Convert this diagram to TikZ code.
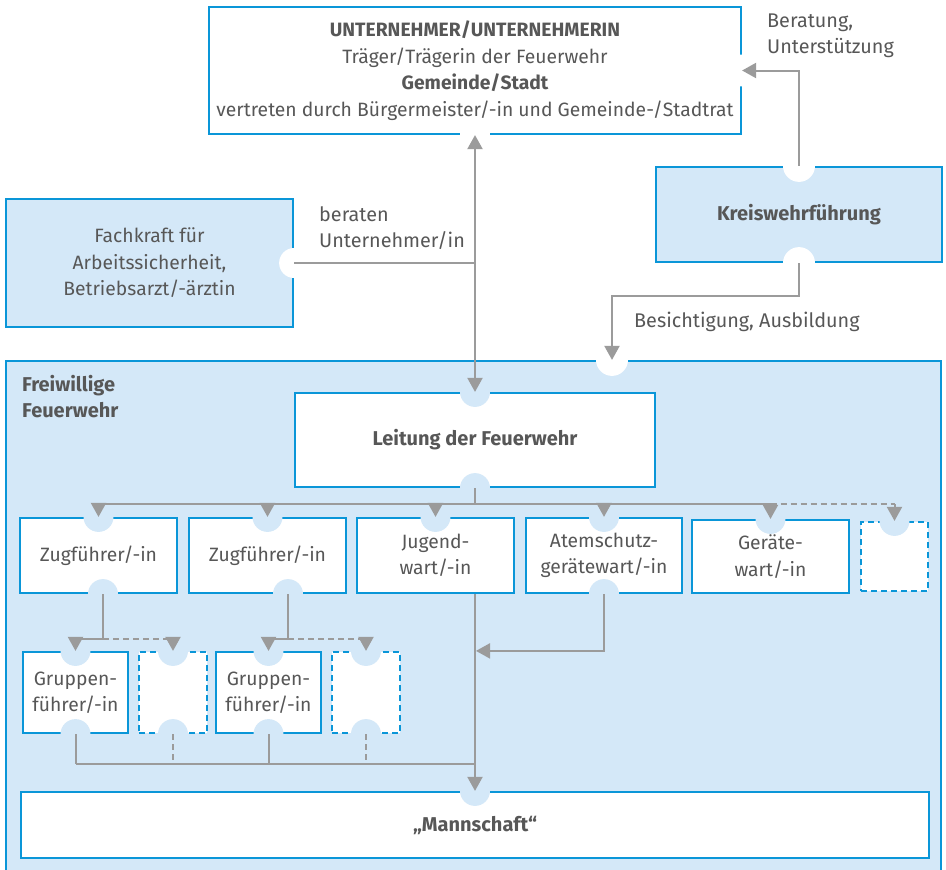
\documentclass[tikz,border=0pt]{standalone}
\usepackage{fontspec}
\setmainfont{Fira Sans}
\usetikzlibrary{arrows.meta}
\definecolor{bl}{HTML}{0A96D8}
\definecolor{lb}{HTML}{D4E8F8}
\definecolor{gr}{HTML}{9B9B9B}
\definecolor{tx}{HTML}{575757}
\newcommand{\boxfont}{\fontsize{19.3}{26.5}\selectfont}
\newcommand{\labfont}{\fontsize{19.8}{26.5}\selectfont}
\newcommand{\bfbox}{\fontsize{20}{26.5}\selectfont\bfseries}
\begin{document}
\begin{tikzpicture}[x=1pt,y=-1pt,
  txt/.style={text=tx, font=\labfont, inner sep=0pt},
  box/.style={draw=bl, line width=2.2pt, fill=white, text=tx, align=center, inner sep=0pt,
              font=\boxfont},
  lbox/.style={box, fill=lb},
  dbox/.style={box, dash pattern=on 6pt off 4pt},
  conn/.style={draw=gr, line width=2pt},
  dconn/.style={conn, dash pattern=on 6pt off 4pt},
  tip/.style={-{Triangle[width=15pt,length=14pt]}},
  bcut/.style={fill=lb},
  wcut/.style={fill=white}
]
\useasboundingbox (0,0) rectangle (946,870);

% Freiwillige Feuerwehr area
\node[lbox, minimum width=935pt, minimum height=512pt] (ff) at (473.5,617) {};
\node[txt, anchor=north west, align=left, font=\bfbox] (fflab) at (22,375) {Freiwillige\\Feuerwehr};

% outer boxes
\node[box, minimum width=532pt, minimum height=127pt] (top) at (475,70.5)
  {{\bfseries UNTERNEHMER/UNTERNEHMERIN}\\Träger/Trägerin der Feuerwehr\\{\bfseries Gemeinde/Stadt}\\vertreten durch Bürgermeister/-in und Gemeinde-/Stadtrat};
\node[lbox, minimum width=286pt, minimum height=95pt, font=\bfbox] (kreis) at (799,214.5) {Kreiswehrführung};
\node[lbox, minimum width=287pt, minimum height=128pt] (fach) at (149.5,263) {Fachkraft für\\Arbeitssicherheit,\\Betriebsarzt/-ärztin};

% inner boxes
\node[box, minimum width=360pt, minimum height=94pt, font=\bfbox] (leit) at (475,440) {Leitung der Feuerwehr};
\node[box, minimum width=157pt, minimum height=75pt] (zug1) at (98.5,555.5) {Zugführer/-in};
\node[box, minimum width=157pt, minimum height=75pt] (zug2) at (267.5,555.5) {Zugführer/-in};
\node[box, minimum width=157pt, minimum height=75pt] (jug) at (435.5,555.5) {Jugend-\\wart/-in};
\node[box, minimum width=156pt, minimum height=75pt] (atem) at (604,555.5) {Atemschutz-\\gerätewart/-in};
\node[box, minimum width=157pt, minimum height=73pt] (gerw) at (770.5,556.5) {Geräte-\\wart/-in};
\node[dbox, minimum width=67pt, minimum height=69pt] (d0) at (894.5,556.5) {};
\node[box, minimum width=105pt, minimum height=81pt] (gf1) at (75.5,692.5) {Gruppen-\\führer/-in};
\node[dbox, minimum width=68pt, minimum height=81pt] (d1) at (173,692.5) {};
\node[box, minimum width=105pt, minimum height=81pt] (gf2) at (268.5,692.5) {Gruppen-\\führer/-in};
\node[dbox, minimum width=68pt, minimum height=81pt] (d2) at (366,692.5) {};
\node[box, minimum width=908pt, minimum height=66pt, font=\bfbox] (mann) at (475,825) {„Mannschaft“};

% connection cut-outs
\fill[wcut] (top.south) circle (15pt);
\fill[wcut] (top.east) circle (16pt);
\fill[wcut] (kreis.north) circle (16pt);
\fill[wcut] (kreis.south) circle (16pt);
\fill[wcut] (fach.east) circle (15pt);
\fill[wcut] ([xshift=138.5pt]ff.north) circle (16pt);
\foreach \n in {leit,zug1,zug2,jug,atem,gerw,d0,gf1,d1,gf2,d2,mann}
  \fill[bcut] (\n.north) circle (15pt);
\foreach \n in {leit,atem,gf1,d1,gf2,d2}
  \fill[bcut] (\n.south) circle (15pt);
\fill[bcut] ([xshift=4.5pt]zug1.south) circle (15pt);
\fill[bcut] ([xshift=20.5pt]zug2.south) circle (15pt);

% connectors
\draw[conn, {Triangle[width=15pt,length=14pt]}-{Triangle[width=15pt,length=14pt]}] (top.south) -- (leit.north);
\draw[conn] (fach.east) -- (fach.east -| top.south);
\draw[conn, tip] (kreis.north) |- (top.east);
\draw[conn, tip] (kreis.south) -- ++(0,33) -| ([xshift=138.5pt]ff.north);

\draw[conn] (leit.south) -- ++(0,16) coordinate (bus);
\draw[conn] (zug1.north |- bus) -- (gerw.north |- bus);
\draw[dconn] (gerw.north |- bus) -- (d0.north |- bus);
\foreach \n in {zug1,zug2,jug,atem,gerw,d0}
  \draw[conn, tip] (\n.north |- bus) -- (\n.north);

\draw[conn] ([xshift=4.5pt]zug1.south) -- ++(0,45) coordinate (z1);
\draw[conn, tip] (z1) -| (gf1.north);
\draw[dconn, tip] (z1) -| (d1.north);
\draw[conn] ([xshift=20.5pt]zug2.south) -- ++(0,45) coordinate (z2);
\draw[conn, tip] (z2) -| (gf2.north);
\draw[dconn, tip] (z2) -| (d2.north);

\draw[conn] (gf1.south) -- ++(0,30) coordinate (g1);
\draw[conn] (g1) -- (g1 -| mann.north);
\draw[conn] (gf2.south) -- (gf2.south |- g1);
\draw[dconn] (d1.south) -- (d1.south |- g1);
\draw[dconn] (d2.south) -- (d2.south |- g1);
\draw[conn, tip] (mann.north |- jug.south) -- (mann.north);
\draw[conn, tip] (atem.south) |- ([xshift=1pt]gf1.north -| mann.north);

% connector labels
\node[txt, anchor=west, align=left] (l1) at (767,36) {Beratung,\\Unterstützung};
\node[txt, anchor=west, align=left] (l2) at (319,228) {beraten\\Unternehmer/in};
\node[txt, anchor=west] (l3) at (634,322) {Besichtigung, Ausbildung};
\end{tikzpicture}
\end{document}
